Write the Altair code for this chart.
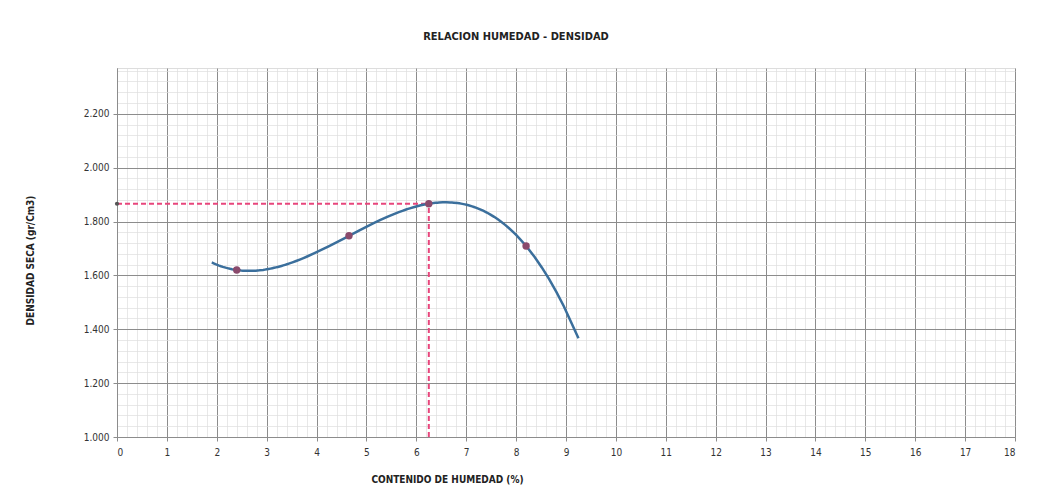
import altair as alt
import pandas as pd
import numpy as np

# ---- data ----
humedad = [2.4, 4.65, 6.25, 8.2]          # contenido de humedad (%)
densidad = [1.620, 1.747, 1.866, 1.709]   # densidad seca (gr/Cm3)
curve_extent = [1.9, 9.25]                # range of the polynomial trend line
omc = 6.25                                # optimum moisture content
mdd = 1.866                               # maximum dry density

x_major = list(range(0, 19))
x_minor = [round(v, 2) for v in np.arange(0, 18.001, 0.2)]
y_major = [round(v, 2) for v in np.arange(1.0, 2.201, 0.2)]
y_minor = [round(v, 3) for v in np.arange(1.0, 2.371, 0.04)]

pts = pd.DataFrame({"x": humedad, "y": densidad})
h_line = pd.DataFrame({"x": [0, omc], "y": [mdd, mdd]})
v_line = pd.DataFrame({"x": [omc, omc], "y": [1.0, mdd]})
h_start = pd.DataFrame({"x": [0], "y": [mdd]})

FONT = "Liberation Sans Narrow, DejaVu Sans Condensed, Arial Narrow, sans-serif"
xs = alt.Scale(domain=[0, 18], nice=False, zero=False)
ys = alt.Scale(domain=[1.0, 2.37], nice=False, zero=False)

minor = alt.Chart(pts).mark_point(opacity=0).encode(
    x=alt.X("x:Q", scale=xs, axis=alt.Axis(values=x_minor, grid=True, gridColor="#dedede",
                                           gridWidth=0.7, labels=False, ticks=False,
                                           domain=False, title=None, orient="bottom")),
    y=alt.Y("y:Q", scale=ys, axis=alt.Axis(values=y_minor, grid=True, gridColor="#dedede",
                                           gridWidth=0.7, labels=False, ticks=False,
                                           domain=False, title=None, orient="left")),
)

major = alt.Chart(pts).mark_point(opacity=0).encode(
    x=alt.X("x:Q", scale=xs, axis=alt.Axis(
        values=x_major, grid=True, gridColor="#8c8c8c", gridWidth=1, format="d",
        ticks=True, tickColor="#8c8c8c", tickSize=4, domain=True, domainColor="#8c8c8c",
        labelFont=FONT, labelFontSize=10, labelColor="#333", labelPadding=6,
        title="CONTENIDO DE HUMEDAD (%)", titleFont=FONT, titleFontSize=10,
        titleFontWeight="bold", titleColor="#222", titleX=330, titleY=42,
        titleBaseline="middle", titleAlign="center", orient="bottom")),
    y=alt.Y("y:Q", scale=ys, axis=alt.Axis(
        values=y_major, grid=True, gridColor="#8c8c8c", gridWidth=1, format=".3f",
        ticks=True, tickColor="#8c8c8c", tickSize=4, domain=True, domainColor="#8c8c8c",
        labelFont=FONT, labelFontSize=10, labelColor="#333", labelPadding=4,
        title="DENSIDAD SECA (gr/Cm3)", titleFont=FONT, titleFontSize=10,
        titleFontWeight="bold", titleColor="#222", titleX=-87, titleY=192,
        titleAngle=270, titleBaseline="middle", titleAlign="center", orient="left")),
)

dash_color = "#e8467c"
hline = alt.Chart(h_line).mark_line(color=dash_color, strokeDash=[5, 3], strokeWidth=2).encode(
    x=alt.X("x:Q", scale=xs, axis=None), y=alt.Y("y:Q", scale=ys, axis=None))
vline = alt.Chart(v_line).mark_line(color=dash_color, strokeDash=[5, 3], strokeWidth=2).encode(
    x=alt.X("x:Q", scale=xs, axis=None), y=alt.Y("y:Q", scale=ys, axis=None))
hdot = alt.Chart(h_start).mark_point(filled=True, color="#555", size=18, opacity=1).encode(
    x=alt.X("x:Q", scale=xs, axis=None), y=alt.Y("y:Q", scale=ys, axis=None))

curve = alt.Chart(pts).transform_regression(
    "x", "y", method="poly", order=3, extent=curve_extent
).mark_line(color="#3b6f9c", strokeWidth=2.5).encode(
    x=alt.X("x:Q", scale=xs, axis=None), y=alt.Y("y:Q", scale=ys, axis=None))

points = alt.Chart(pts).mark_point(filled=True, color="#8a4a6c", size=55, opacity=1).encode(
    x=alt.X("x:Q", scale=xs, axis=None), y=alt.Y("y:Q", scale=ys, axis=None))

chart = alt.layer(minor, major, hline, vline, hdot, curve, points).resolve_axis(
    x="independent", y="independent"
).properties(
    width=898, height=369,
    padding={"left": 109, "top": 60, "right": 18, "bottom": 50},
    autosize=alt.AutoSizeParams(type="none"),
    title=alt.TitleParams("RELACION HUMEDAD - DENSIDAD", font=FONT, fontSize=11,
                          fontWeight="bold", color="#222", anchor="middle",
                          frame="group", dx=-50, offset=20, baseline="middle"),
).configure_view(stroke="#8c8c8c", strokeWidth=1).configure(background="white")

chart.save("out.html", embed_options={"renderer": "svg", "actions": False})
